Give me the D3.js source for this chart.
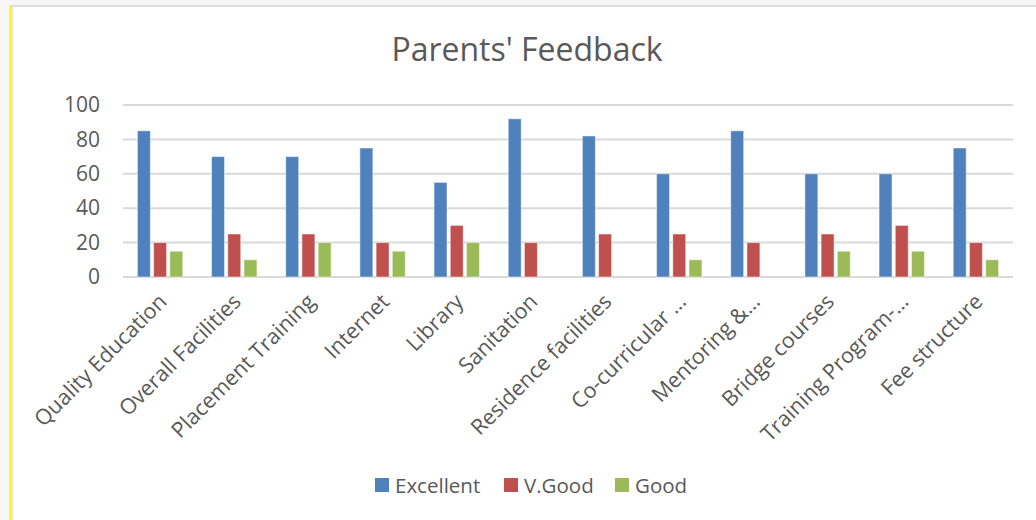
<!DOCTYPE html>
<html>
<head>
<meta charset="utf-8">
<script src="https://cdn.jsdelivr.net/npm/d3@7"></script>
<style>
  html, body { margin: 0; padding: 0; background: #f7f7f7; }
  svg { display: block; font-family: "Open Sans", sans-serif; }
</style>
</head>
<body>
<div id="area"></div>
<script>
const categories = [
  "Quality Education", "Overall Facilities", "Placement Training", "Internet",
  "Library", "Sanitation", "Residence facilities", "Co-curricular …",
  "Mentoring &…", "Bridge courses", "Training Program-…", "Fee structure"
];
const seriesNames = ["Excellent", "V.Good", "Good"];
const excellent = [85, 70, 70, 75, 55, 92, 82, 60, 85, 60, 60, 75];
const vgood = [20, 25, 25, 20, 30, 20, 25, 25, 20, 25, 30, 20];
const good = [15, 10, 20, 15, 20, 0, 0, 10, 0, 15, 15, 10];
const yTicks = [0, 20, 40, 60, 80, 100];
const colors = ["#4f81bd", "#c0504d", "#9bbb59"];

const width = 1036;
const height = 520;
const margin = { top: 105, right: 23, bottom: 243, left: 123 };

const data = categories.map((c, i) => ({
  category: c,
  values: [excellent[i], vgood[i], good[i]]
}));

const svg = d3
  .select("#area")
  .append("svg")
  .attr("width", width)
  .attr("height", height);

// page frame: gray strips, yellow marker, white chart area
svg.append("rect").attr("x", 0).attr("y", 0).attr("width", width).attr("height", height).attr("fill", "#f7f7f7");
svg.append("rect").attr("x", 13).attr("y", 7).attr("width", width - 13).attr("height", height - 7).attr("fill", "#ffffff");
svg.append("line").attr("x1", 9).attr("x2", width).attr("y1", 6).attr("y2", 6)
  .attr("stroke", "#dcdcdc").attr("stroke-width", 2);
svg.append("rect").attr("x", 9).attr("y", 6).attr("width", 3).attr("height", height - 6).attr("fill", "#ffff00");
svg.append("line").attr("x1", 12.5).attr("x2", 12.5).attr("y1", 7).attr("y2", height)
  .attr("stroke", "#e4e0ef").attr("stroke-width", 1);

const x0 = d3
  .scaleBand()
  .domain(categories)
  .range([margin.left, width - margin.right])
  .paddingInner(0.388)
  .paddingOuter(0.194);

const x1 = d3
  .scaleBand()
  .domain(seriesNames)
  .range([0, x0.bandwidth()])
  .paddingInner(0.2);

const y = d3
  .scaleLinear()
  .domain([0, 100])
  .range([height - margin.bottom, margin.top]);

// gridlines
svg
  .append("g")
  .selectAll("line")
  .data(yTicks)
  .join("line")
  .attr("x1", margin.left)
  .attr("x2", width - margin.right)
  .attr("y1", (d) => y(d))
  .attr("y2", (d) => y(d))
  .attr("stroke", "#d9d9d9")
  .attr("stroke-width", 2);

// y axis labels
const yAxis = svg
  .append("g")
  .attr("transform", `translate(${margin.left - 23}, 0)`)
  .call(d3.axisLeft(y).tickValues(yTicks).tickSize(0).tickPadding(0));
yAxis.select(".domain").remove();
yAxis.selectAll("text")
  .attr("fill", "#595959")
  .attr("font-size", 21)
  .attr("font-family", "Open Sans, sans-serif");

// bars
svg
  .append("g")
  .selectAll("g")
  .data(data)
  .join("g")
  .attr("transform", (d) => `translate(${x0(d.category)}, 0)`)
  .selectAll("rect")
  .data((d) => d.values.map((v, j) => ({ key: seriesNames[j], value: v, j })))
  .join("rect")
  .attr("x", (d) => x1(d.key))
  .attr("y", (d) => y(d.value))
  .attr("width", x1.bandwidth())
  .attr("height", (d) => y(0) - y(d.value))
  .attr("fill", (d) => colors[d.j])
  .attr("stroke", "#ffffff")
  .attr("stroke-opacity", 0.5)
  .attr("stroke-width", 1);

// x axis labels rotated
const xAxis = svg
  .append("g")
  .attr("transform", `translate(0, ${y(0)})`)
  .call(d3.axisBottom(x0).tickSize(0).tickPadding(0));
xAxis.select(".domain").remove();
xAxis.selectAll("text")
  .attr("fill", "#595959")
  .attr("font-size", 21.5)
  .attr("font-family", "Open Sans, sans-serif")
  .attr("text-anchor", "end")
  .attr("dy", null)
  .attr("y", 0)
  .attr("transform", "translate(8, 26) rotate(-45)");

// title
svg
  .append("text")
  .attr("x", 527)
  .attr("y", 61)
  .attr("text-anchor", "middle")
  .attr("fill", "#595959")
  .attr("font-size", 32)
  .text("Parents' Feedback");

// legend
const legendX = [375, 504, 615];
const legend = svg
  .append("g")
  .selectAll("g")
  .data(seriesNames)
  .join("g")
  .attr("transform", (d, i) => `translate(${legendX[i]}, 478)`);
legend.append("rect")
  .attr("width", 14)
  .attr("height", 14)
  .attr("fill", (d, i) => colors[i]);
legend.append("text")
  .attr("x", 20)
  .attr("y", 15)
  .attr("fill", "#595959")
  .attr("font-size", 20.5)
  .text((d) => d);
</script>
</body>
</html>
